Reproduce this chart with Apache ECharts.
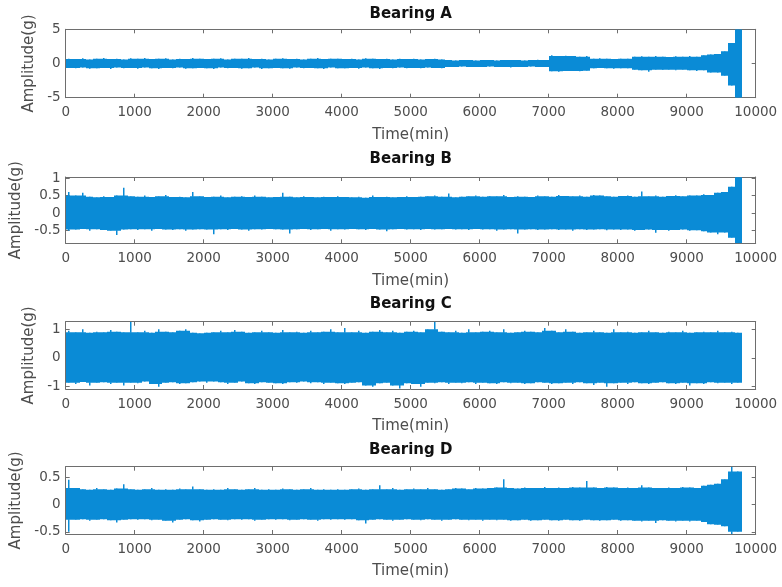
<!DOCTYPE html>
<html>
<head>
<meta charset="utf-8">
<script src="https://cdn.jsdelivr.net/npm/echarts@6/dist/echarts.min.js"></script>
<style>
html,body{margin:0;padding:0;background:#fff;}
#main{width:782px;height:587px;}
</style>
</head>
<body>
<div id="main"></div>
<script>
// envelope of each signal, one value per 100 min bin (0..9800)
let binWidth = 100;

let aUp = [0.7,0.65,0.75,0.6,0.7,0.8,0.65,0.7,0.6,0.75,
	0.7,0.8,0.65,0.7,0.75,0.6,0.7,0.65,0.8,0.7,
	0.65,0.7,0.75,0.6,0.7,0.7,0.8,0.65,0.7,0.6,
	0.7,0.75,0.65,0.7,0.6,0.7,0.8,0.65,0.7,0.7,
	0.65,0.7,0.6,0.75,0.7,0.65,0.7,0.6,0.7,0.65,
	0.7,0.6,0.65,0.7,0.6,0.5,0.45,0.5,0.5,0.45,
	0.5,0.5,0.45,0.5,0.5,0.5,0.45,0.5,0.55,0.5,
	1.2,1.1,1.15,1.1,1.0,1.1,0.7,0.75,0.7,0.65,
	0.7,0.7,1.0,1.05,1.0,1.1,1.0,0.95,1.05,1.0,
	1.1,1.0,1.2,1.3,1.4,1.8,3,5];
let aLow = [-0.65,-0.7,-0.6,-0.75,-0.7,-0.65,-0.8,-0.6,-0.7,-0.65,
	-0.75,-0.6,-0.7,-0.8,-0.65,-0.7,-0.6,-0.75,-0.7,-0.65,
	-0.7,-0.8,-0.6,-0.7,-0.65,-0.75,-0.7,-0.6,-0.8,-0.7,
	-0.65,-0.7,-0.75,-0.6,-0.7,-0.65,-0.7,-0.8,-0.6,-0.7,
	-0.7,-0.65,-0.75,-0.6,-0.7,-0.8,-0.65,-0.7,-0.6,-0.7,
	-0.65,-0.7,-0.6,-0.65,-0.7,-0.5,-0.5,-0.45,-0.5,-0.5,
	-0.5,-0.45,-0.5,-0.5,-0.6,-0.5,-0.5,-0.45,-0.5,-0.5,
	-1.15,-1.2,-1.1,-1.1,-1.15,-1.05,-0.7,-0.65,-0.7,-0.75,
	-0.7,-0.7,-0.9,-1.0,-1.2,-0.9,-0.95,-0.9,-1.0,-0.9,
	-1.0,-1.1,-1.0,-1.3,-1.3,-1.8,-3.2,-5];

let bUp = [0.6,0.5,0.58,0.47,0.45,0.48,0.46,0.5,0.72,0.48,
	0.47,0.5,0.46,0.48,0.52,0.46,0.47,0.45,0.6,0.48,
	0.46,0.47,0.5,0.45,0.47,0.48,0.46,0.5,0.47,0.45,
	0.46,0.58,0.47,0.45,0.48,0.46,0.45,0.47,0.46,0.48,
	0.46,0.45,0.47,0.44,0.5,0.46,0.47,0.45,0.46,0.48,
	0.46,0.47,0.48,0.5,0.47,0.56,0.45,0.47,0.48,0.5,
	0.47,0.49,0.48,0.52,0.46,0.48,0.47,0.46,0.5,0.48,
	0.47,0.52,0.49,0.48,0.5,0.47,0.52,0.5,0.48,0.47,
	0.49,0.5,0.47,0.62,0.48,0.5,0.47,0.49,0.51,0.48,
	0.5,0.5,0.54,0.52,0.58,0.6,0.75,1.02];
let bLow = [-0.5,-0.47,-0.45,-0.5,-0.46,-0.48,-0.5,-0.62,-0.47,-0.46,
	-0.48,-0.46,-0.5,-0.45,-0.47,-0.48,-0.46,-0.5,-0.47,-0.46,
	-0.47,-0.6,-0.46,-0.48,-0.45,-0.47,-0.5,-0.46,-0.47,-0.45,
	-0.46,-0.47,-0.58,-0.46,-0.45,-0.48,-0.46,-0.45,-0.5,-0.46,
	-0.47,-0.45,-0.46,-0.48,-0.45,-0.47,-0.52,-0.46,-0.45,-0.47,
	-0.46,-0.48,-0.45,-0.47,-0.46,-0.45,-0.47,-0.46,-0.48,-0.45,
	-0.47,-0.46,-0.5,-0.47,-0.46,-0.58,-0.47,-0.46,-0.48,-0.47,
	-0.46,-0.48,-0.47,-0.5,-0.46,-0.48,-0.47,-0.46,-0.49,-0.47,
	-0.48,-0.47,-0.5,-0.48,-0.47,-0.56,-0.48,-0.5,-0.48,-0.47,
	-0.5,-0.49,-0.52,-0.55,-0.6,-0.55,-0.7,-0.86];

let cUp = [0.95,0.9,1.0,0.88,0.92,0.9,0.98,0.92,0.9,1.27,
	0.9,0.95,0.88,1.0,0.92,0.9,0.95,1.0,0.88,0.86,
	0.88,0.9,0.95,0.9,0.98,0.92,0.88,0.9,0.95,0.9,
	0.88,0.98,0.9,0.92,0.88,0.95,0.9,0.92,1.0,0.9,
	1.05,0.9,0.95,0.88,0.92,0.98,0.9,0.95,0.88,0.92,
	0.95,0.9,1.0,1.27,0.92,0.9,0.95,0.88,1.0,0.9,
	0.92,0.95,0.9,1.0,0.88,0.9,0.95,0.92,0.9,1.05,
	0.95,0.9,1.0,0.92,0.88,0.9,0.95,0.9,0.88,1.0,
	0.9,0.92,0.88,0.9,0.95,0.9,0.88,0.92,0.9,0.95,
	0.88,0.9,0.92,0.9,0.95,0.9,0.92,0.88];
let cLow = [-0.88,-0.92,-0.85,-0.98,-0.88,-0.86,-0.92,-0.88,-0.98,-0.88,
	-0.9,-0.84,-0.92,-1.02,-0.88,-0.86,-0.92,-0.9,-0.86,-0.84,
	-0.88,-0.84,-0.86,-0.92,-0.88,-0.84,-0.9,-0.92,-0.86,-0.88,
	-0.9,-0.92,-0.86,-0.88,-0.84,-0.9,-0.86,-0.92,-0.88,-0.9,
	-0.92,-0.88,-0.86,-0.98,-1.02,-0.9,-0.88,-0.98,-1.08,-0.9,
	-0.92,-1.02,-0.88,-0.9,-0.86,-0.92,-0.88,-0.9,-0.86,-0.92,
	-0.88,-0.9,-0.92,-0.86,-0.9,-0.88,-0.92,-0.9,-0.86,-0.88,
	-0.92,-0.9,-0.88,-0.92,-0.86,-0.9,-0.96,-0.88,-1.02,-0.9,
	-0.88,-0.92,-0.86,-0.9,-0.92,-0.88,-0.86,-0.9,-0.92,-0.88,
	-0.98,-0.9,-0.92,-0.86,-0.9,-0.88,-0.92,-0.88];

let dUp = [0.45,0.3,0.28,0.27,0.3,0.28,0.27,0.29,0.37,0.28,
	0.27,0.28,0.3,0.27,0.28,0.27,0.29,0.28,0.33,0.28,
	0.27,0.28,0.27,0.3,0.28,0.27,0.28,0.3,0.27,0.28,
	0.27,0.29,0.28,0.27,0.28,0.3,0.27,0.28,0.27,0.28,
	0.27,0.28,0.29,0.27,0.28,0.35,0.28,0.3,0.27,0.28,
	0.29,0.28,0.3,0.28,0.27,0.28,0.3,0.29,0.28,0.3,
	0.29,0.3,0.31,0.46,0.3,0.29,0.31,0.3,0.3,0.32,
	0.3,0.31,0.3,0.32,0.31,0.43,0.31,0.3,0.32,0.31,
	0.3,0.31,0.3,0.35,0.31,0.3,0.3,0.31,0.3,0.32,
	0.31,0.3,0.34,0.36,0.38,0.46,0.69,0.6];
let dLow = [-0.5,-0.28,-0.27,-0.3,-0.28,-0.27,-0.29,-0.33,-0.28,-0.27,
	-0.28,-0.27,-0.29,-0.28,-0.3,-0.33,-0.28,-0.27,-0.29,-0.31,
	-0.28,-0.27,-0.28,-0.29,-0.27,-0.28,-0.27,-0.3,-0.28,-0.27,
	-0.28,-0.27,-0.29,-0.28,-0.27,-0.28,-0.3,-0.27,-0.28,-0.27,
	-0.28,-0.27,-0.29,-0.35,-0.28,-0.27,-0.28,-0.3,-0.28,-0.27,
	-0.28,-0.29,-0.27,-0.28,-0.3,-0.28,-0.27,-0.28,-0.29,-0.28,
	-0.3,-0.28,-0.29,-0.28,-0.3,-0.29,-0.28,-0.3,-0.29,-0.28,
	-0.29,-0.3,-0.28,-0.29,-0.3,-0.28,-0.29,-0.3,-0.29,-0.28,
	-0.3,-0.29,-0.3,-0.31,-0.3,-0.34,-0.29,-0.3,-0.31,-0.3,
	-0.31,-0.3,-0.32,-0.36,-0.37,-0.4,-0.54,-0.5];

let titles = ["Bearing A","Bearing B","Bearing C","Bearing D"];
let ampTicks = [[-5,0,5],[-0.5,0,0.5,1],[-1,0,1],[-0.5,0,0.5]];
let ampMin = [-5,-0.86,-1.1,-0.54];
let ampMax = [5,1.03,1.27,0.69];
let ups = [aUp,bUp,cUp,dUp];
let lows = [aLow,bLow,cLow,dLow];

// layout
let gridTop = [29.3,177,321.7,466.7];
let gridH = [68.4,66.3,67.3,67.3];
let titleY = [14,159.5,304.5,450];
let yNameGap = [23,36,23,36];
let blue = "#0a8bd6";
let boxColor = "#6e6e6e";
let textColor = "#4d4d4d";
let font = "DejaVu Sans";

// a bin that sticks out above both neighbours is drawn as a thin spike on top of the band
function bandData(up,low){
	let rows=[];
	for(let i=0;i<up.length;i++){
		let uPrev=i>0?up[i-1]:up[i+1], uNext=i<up.length-1?up[i+1]:up[i];
		let lPrev=i>0?low[i-1]:low[i+1], lNext=i<low.length-1?low[i+1]:low[i];
		let coreUp=Math.min(up[i],Math.max(uPrev,uNext));
		let coreLow=Math.max(low[i],Math.min(lPrev,lNext));
		rows.push([i*binWidth,(i+1)*binWidth,low[i],up[i],coreLow,coreUp]);
	}
	return rows;
}
function renderBand(params,api){
	let a=api.coord([api.value(0),api.value(5)]);
	let b=api.coord([api.value(1),api.value(4)]);
	let top=api.coord([api.value(0),api.value(3)]);
	let bot=api.coord([api.value(0),api.value(2)]);
	let x0=Math.round(a[0]),x1=Math.round(b[0]);
	let cx=Math.round((a[0]+b[0])/2);
	let st={fill:blue};
	return {
		type:"group",
		children:[
			{type:"rect",shape:{x:x0,y:a[1],width:x1-x0,height:b[1]-a[1]},style:st},
			{type:"rect",shape:{x:cx-1,y:top[1],width:1.5,height:a[1]-top[1]+0.5},style:st},
			{type:"rect",shape:{x:cx-1,y:b[1]-0.5,width:1.5,height:bot[1]-b[1]+0.5},style:st}
		]
	};
}

let grid=[],xAxis=[],yAxis=[],series=[],graphic=[];
let line={show:true,onZero:false,lineStyle:{color:boxColor,width:1}};
let tick={show:true,inside:true,length:4,lineStyle:{color:boxColor}};
for(let i=0;i<4;i++){
	grid.push({left:65.7,right:26.3,top:gridTop[i],height:gridH[i]});
	xAxis.push({
		gridIndex:i,type:"value",min:0,max:10000,interval:1000,position:"bottom",
		name:"Time(min)",nameLocation:"middle",nameGap:30,
		nameTextStyle:{color:textColor,fontSize:15,fontFamily:font},
		axisLine:line,axisTick:tick,splitLine:{show:false},
		axisLabel:{margin:8,color:textColor,fontSize:13.5,fontFamily:font,formatter:function(v){return String(v);}}
	});
	xAxis.push({
		gridIndex:i,type:"value",min:0,max:10000,interval:1000,position:"top",
		axisLine:line,axisTick:tick,splitLine:{show:false},axisLabel:{show:false}
	});
	yAxis.push({
		gridIndex:i,type:"value",min:ampMin[i],max:ampMax[i],position:"left",
		name:"Amplitude(g)",nameLocation:"middle",nameGap:yNameGap[i],
		nameTextStyle:{color:textColor,fontSize:15,fontFamily:font},
		axisLine:line,splitLine:{show:false},
		axisTick:{show:true,inside:true,length:4,lineStyle:{color:boxColor},customValues:ampTicks[i]},
		axisLabel:{margin:5,color:textColor,fontSize:13.5,fontFamily:font,customValues:ampTicks[i]}
	});
	yAxis.push({
		gridIndex:i,type:"value",min:ampMin[i],max:ampMax[i],position:"right",
		axisLine:line,splitLine:{show:false},
		axisTick:{show:true,inside:true,length:4,lineStyle:{color:boxColor},customValues:ampTicks[i]},
		axisLabel:{show:false}
	});
	series.push({
		type:"custom",xAxisIndex:2*i,yAxisIndex:2*i,
		renderItem:renderBand,encode:{x:[0,1],y:[2,3]},clip:true,
		data:bandData(ups[i],lows[i]),silent:true
	});
	graphic.push({
		type:"text",x:410.7,y:titleY[i],
		style:{text:titles[i],fill:"#111",font:"bold 15px 'DejaVu Sans'",textAlign:"center",textVerticalAlign:"middle"}
	});
}

let chart=echarts.init(document.getElementById("main"));
chart.setOption({
	animation:false,
	backgroundColor:"#fff",
	grid:grid,xAxis:xAxis,yAxis:yAxis,series:series,graphic:graphic
});
</script>
</body>
</html>
